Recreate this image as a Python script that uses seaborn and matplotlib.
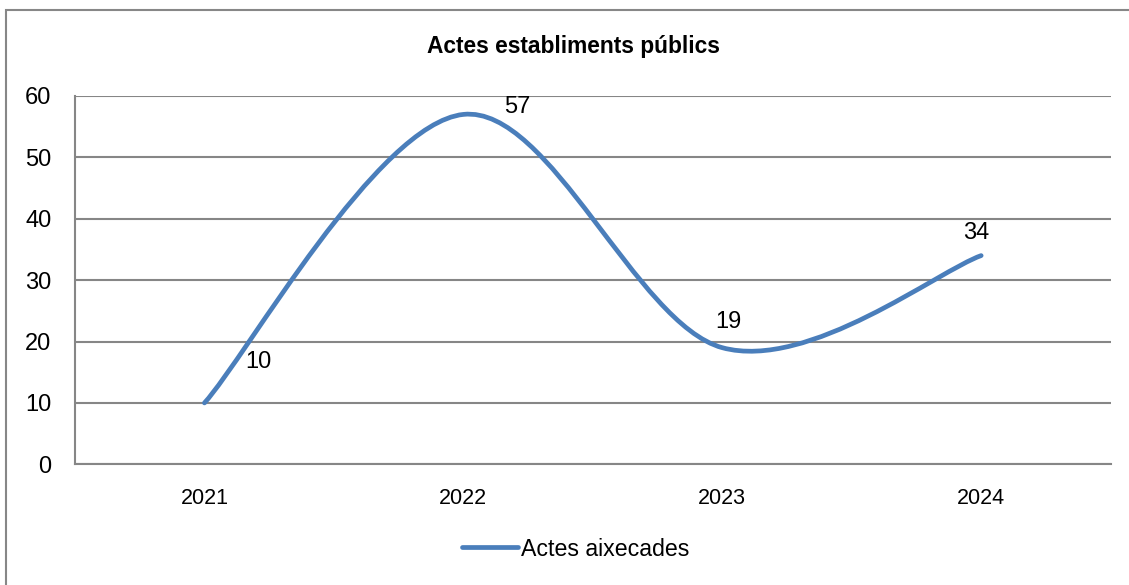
import numpy as np
import matplotlib
matplotlib.use("Agg")
import matplotlib.pyplot as plt
import seaborn as sns
from matplotlib.path import Path
from matplotlib.patches import PathPatch, Rectangle
from matplotlib.lines import Line2D

# data
years = ["2021", "2022", "2023", "2024"]
actes = [10, 57, 19, 34]
series_name = "Actes aixecades"
title = "Actes establiments públics"
yticks = [0, 10, 20, 30, 40, 50, 60]

# label offsets in pixels (dx, dy) for each point
label_offsets = [(54, 41), (54, 7), (6, 26), (-5, 23)]

blue = "#4A7EBB"
grid_grey = "#868686"

sns.set_style("white")
plt.rcParams["font.family"] = ["Liberation Sans", "DejaVu Sans"]
plt.rcParams["text.color"] = "black"
plt.rcParams["xtick.color"] = "black"
plt.rcParams["ytick.color"] = "black"

fig = plt.figure(figsize=(11.29, 5.85), dpi=100)
ax = fig.add_axes([75 / 1129, 1 - 464.3 / 585, (1110.6 - 75) / 1129, (464.3 - 96) / 585])

x = np.arange(len(years))
y = np.array(actes, dtype=float)

# smoothed line (Excel-style cubic Bezier with Catmull-Rom control points)
verts = [(x[0], y[0])]
codes = [Path.MOVETO]
n = len(x)
for i in range(n - 1):
    p0 = np.array([x[max(i - 1, 0)], y[max(i - 1, 0)]])
    p1 = np.array([x[i], y[i]])
    p2 = np.array([x[i + 1], y[i + 1]])
    p3 = np.array([x[min(i + 2, n - 1)], y[min(i + 2, n - 1)]])
    c1 = p1 + (p2 - p0) / 6
    c2 = p2 - (p3 - p1) / 6
    verts += [tuple(c1), tuple(c2), tuple(p2)]
    codes += [Path.CURVE4] * 3
curve = PathPatch(Path(verts, codes), facecolor="none", edgecolor=blue,
                  linewidth=3.4, capstyle="round", joinstyle="round", zorder=3)
ax.add_patch(curve)

for xi, yi, (dx, dy) in zip(x, actes, label_offsets):
    ax.annotate(str(yi), (xi, yi), xytext=(dx, dy), textcoords="offset pixels",
                ha="center", va="center", fontsize=17, color="black")

ax.set_xlim(-0.5, len(years) - 0.5)
ax.set_ylim(0, 60)
ax.set_xticks(x)
ax.set_xticklabels(years, fontsize=15.5)
ax.set_yticks(yticks)
ax.set_yticklabels([str(t) for t in yticks], fontsize=17)
ax.tick_params(axis="both", length=0)
ax.tick_params(axis="y", pad=17)
ax.tick_params(axis="x", pad=17)

ax.grid(axis="y", color=grid_grey, linewidth=1.5)
ax.grid(axis="x", visible=False)
ax.set_axisbelow(True)
sns.despine(ax=ax)
for side in ["left", "bottom"]:
    ax.spines[side].set_color(grid_grey)
    ax.spines[side].set_linewidth(1.5)

fig.text(573.5 / 1129, 1 - 46 / 585, title, ha="center", va="center",
         fontsize=16.4, fontweight="bold")

handle = Line2D([0], [0], color=blue, linewidth=3.4, solid_capstyle="round")
fig.legend([handle], [series_name], loc="center", bbox_to_anchor=(575.5 / 1129, 1 - 549 / 585),
           frameon=False, fontsize=16.7, handlelength=2.4, handletextpad=0.12)

# outer chart border
fig.patches.append(Rectangle((5.5 / 1129, -0.05), 1.2, 1.05 - 10 / 585, transform=fig.transFigure,
                             fill=False, edgecolor="#878787", linewidth=1.5))

fig.savefig("out.png", dpi=100)
